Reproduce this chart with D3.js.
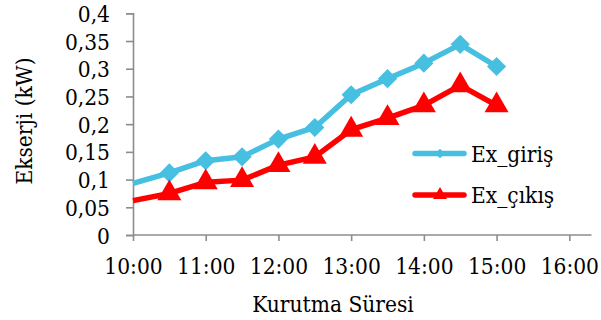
<!DOCTYPE html>
<html>
<head>
<meta charset="utf-8">
<script src="https://cdn.jsdelivr.net/npm/d3@7/dist/d3.min.js"></script>
<style>
  html, body { margin: 0; padding: 0; background: #fff; }
  svg { display: block; }
  text { font-family: "DejaVu Serif Condensed", "DejaVu Serif", serif; font-stretch: condensed; fill: #000; }
</style>
</head>
<body>
<svg id="chart" width="601" height="320"></svg>
<script>
// Drying time in hours (10:00 .. 15:00 every half hour)
const hours = [10, 10.5, 11, 11.5, 12, 12.5, 13, 13.5, 14, 14.5, 15];
// Exergy in / out (kW)
const exGiris = [0.093, 0.112, 0.134, 0.141, 0.173, 0.194, 0.253, 0.282, 0.310, 0.344, 0.304];
const exCikis = [0.062, 0.075, 0.095, 0.099, 0.126, 0.141, 0.190, 0.211, 0.234, 0.270, 0.234];
const seriesNames = ["Ex_giriş", "Ex_çıkış"];
const xTickLabels = ["10:00", "11:00", "12:00", "13:00", "14:00", "15:00", "16:00"];
const yTicks = [0, 0.05, 0.1, 0.15, 0.2, 0.25, 0.3, 0.35, 0.4];

const svg = d3.select("#chart");
const plotLeft = 133, plotRight = 569.3, plotTop = 13.3, plotBottom = 235;
const fontSize = 22.5;

const x = d3.scaleLinear().domain([10, 16]).range([plotLeft, plotRight]);
const y = d3.scaleLinear().domain([0, 0.4]).range([plotBottom, plotTop]);

const axisColor = "#8c8c8c";

// Y axis
const yAxis = svg.append("g").attr("transform", `translate(${plotLeft},0)`)
  .call(d3.axisLeft(y).tickValues(yTicks).tickSize(7).tickPadding(16)
    .tickFormat(d => String(d).replace(".", ",")));
yAxis.select(".domain").attr("stroke", axisColor).attr("stroke-width", 1.6);
yAxis.selectAll(".tick line").attr("stroke", axisColor).attr("stroke-width", 1.6);
yAxis.selectAll(".tick text").attr("font-size", fontSize).attr("fill", "#000")
  .attr("font-family", null).attr("dy", "0.36em");

// X axis
const xAxis = svg.append("g").attr("transform", `translate(0,${plotBottom})`)
  .call(d3.axisBottom(x).tickValues(d3.range(10, 17)).tickSize(6).tickSizeOuter(0).tickPadding(17)
    .tickFormat((d, i) => xTickLabels[i]));
xAxis.select(".domain").attr("stroke", axisColor).attr("stroke-width", 1.6)
  .attr("d", `M${plotLeft},0H591.5`);
xAxis.selectAll(".tick line").attr("stroke", axisColor).attr("stroke-width", 1.6);
xAxis.selectAll(".tick text").attr("font-size", fontSize).attr("fill", "#000")
  .attr("font-family", null);

// Axis titles
svg.append("text")
  .attr("transform", "translate(32,121) rotate(-90)")
  .attr("text-anchor", "middle")
  .attr("font-size", fontSize)
  .text("Ekserji (kW)");
svg.append("text")
  .attr("x", 333).attr("y", 312)
  .attr("text-anchor", "middle")
  .attr("font-size", fontSize)
  .text("Kurutma Süresi");

const blue = "#46bfe0", red = "#ff0000";
const line = d3.line().x((d, i) => x(hours[i])).y(d => y(d));

const diamond = d3.symbol().type(d3.symbolDiamond2 || d3.symbolDiamond).size(235);
const triangle = d3.symbol().type(d3.symbolTriangle).size(250);

function drawSeries(values, color, sym) {
  svg.append("path").datum(values)
    .attr("d", line)
    .attr("fill", "none")
    .attr("stroke", color)
    .attr("stroke-width", 5.5)
    .attr("stroke-linejoin", "round")
    .attr("stroke-linecap", "butt");
  // no marker at the first reading (sits on the axis)
  svg.append("g").selectAll("path")
    .data(values.slice(1))
    .join("path")
    .attr("transform", (d, i) => `translate(${x(hours[i + 1])},${y(d)})`)
    .attr("d", sym)
    .attr("fill", color);
}

drawSeries(exGiris, blue, diamond);
drawSeries(exCikis, red, triangle);

// Legend
const legend = svg.append("g");
const legendItems = [
  { name: seriesNames[0], color: blue, sym: d3.symbol().type(d3.symbolDiamond2 || d3.symbolDiamond).size(60), y: 153.5 },
  { name: seriesNames[1], color: red, sym: d3.symbol().type(d3.symbolTriangle).size(85), y: 195 }
];
legendItems.forEach(it => {
  legend.append("line")
    .attr("x1", 415).attr("x2", 464).attr("y1", it.y).attr("y2", it.y)
    .attr("stroke", it.color).attr("stroke-width", 5.5).attr("stroke-linecap", "round");
  legend.append("path")
    .attr("transform", `translate(440,${it.y})`)
    .attr("d", it.sym).attr("fill", it.color);
  legend.append("text")
    .attr("x", 471).attr("y", it.y).attr("dy", "0.36em")
    .attr("font-size", fontSize)
    .text(it.name);
});
</script>
</body>
</html>
